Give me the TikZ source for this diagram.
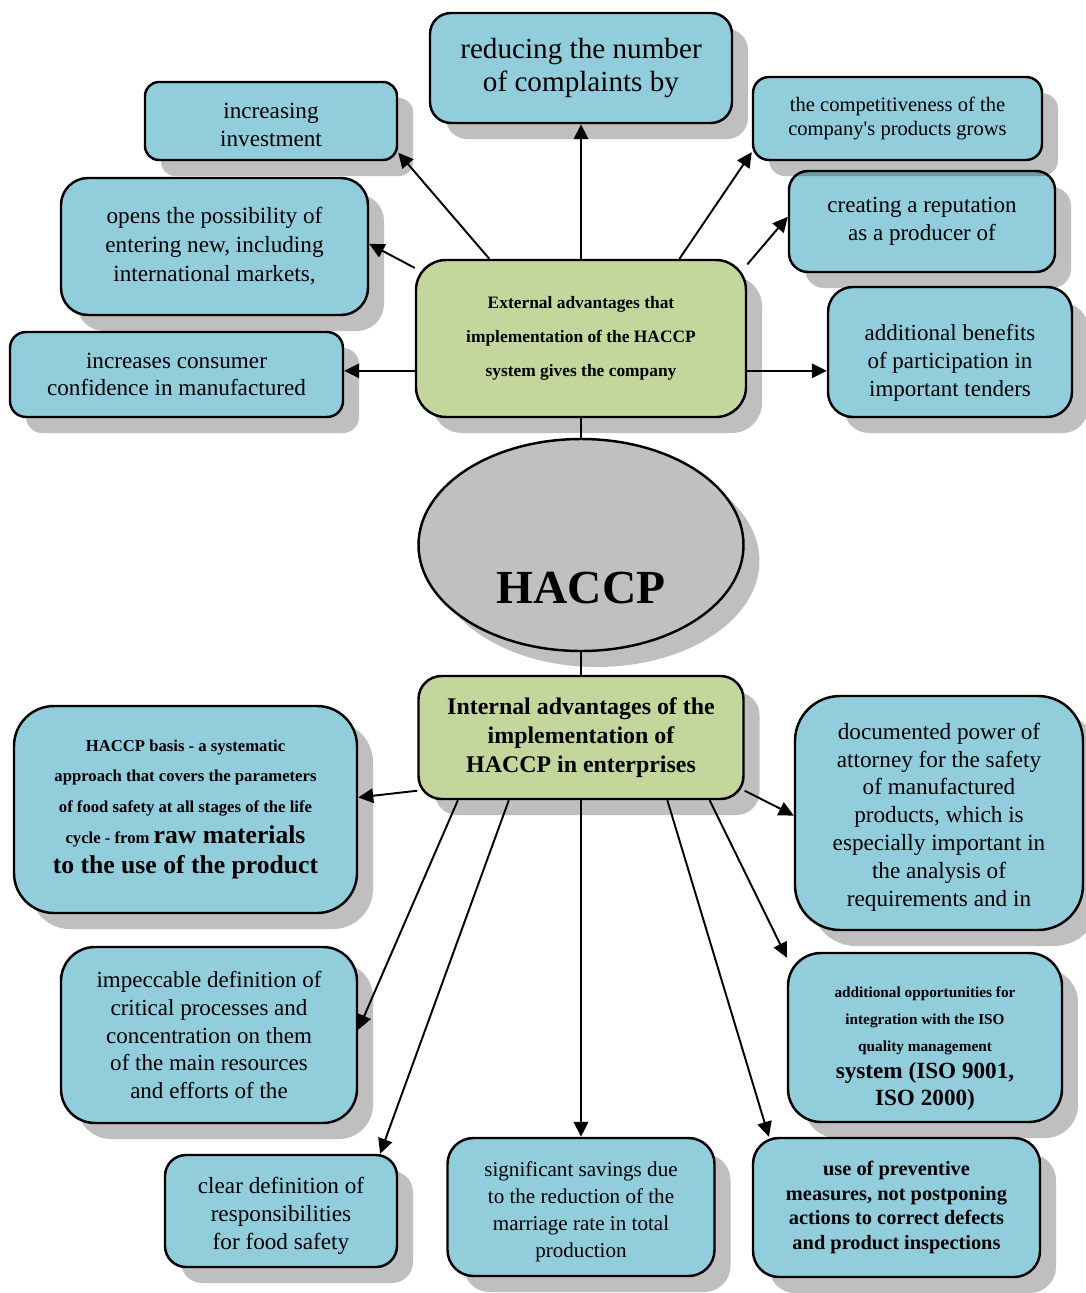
\documentclass[tikz,border=0pt]{standalone}
\usepackage{fontspec}
\setmainfont{Liberation Serif}
\usetikzlibrary{shapes.geometric,shadows,arrows.meta}
\definecolor{boxblue}{HTML}{92CDDC}
\definecolor{boxgreen}{HTML}{C3D69B}
\definecolor{hubgray}{HTML}{C0C0C0}
\newcommand{\topgap}[1]{\rule{0pt}{#1}}

\begin{document}
\begin{tikzpicture}[
  box/.style={draw, line width=1.4pt, fill=boxblue, align=center, inner sep=0pt,
    drop shadow={shadow xshift=0.32cm, shadow yshift=-0.32cm, fill=black, opacity=0.25}},
  adv/.style={box, fill=boxgreen},
  arr/.style={line width=1.1pt, -{Triangle[length=0.3cm,width=0.29cm]}},
  link/.style={line width=1.1pt}]
  \useasboundingbox (0,0) rectangle (21.72,-25.86);

  \node[adv, minimum width=6.6cm, minimum height=3.14cm, rounded corners=0.6cm,
    font=\fontsize{9.9}{19.3}\selectfont\bfseries] (ext) at (11.62,-6.77)
    {External advantages that\\implementation of the HACCP\\system gives the company};
  \node[box, minimum width=5.04cm, minimum height=1.56cm, rounded corners=0.28cm,
    font=\fontsize{13.2}{15.9}\selectfont] (invest) at (5.42,-2.42)
    {\topgap{13.6pt}increasing\\investment};
  \node[box, minimum width=6.14cm, minimum height=2.74cm, rounded corners=0.54cm,
    font=\fontsize{13.2}{16.5}\selectfont] (markets) at (4.29,-4.93)
    {opens the possibility of\\entering new, including\\international markets,};
  \node[box, minimum width=6.66cm, minimum height=1.7cm, rounded corners=0.32cm,
    font=\fontsize{13.2}{15.4}\selectfont] (consumer) at (3.53,-7.49)
    {increases consumer\\confidence in manufactured};
  \node[box, minimum width=6.04cm, minimum height=2.2cm, rounded corners=0.42cm,
    font=\fontsize{16.6}{19.3}\selectfont] (reducing) at (11.62,-1.36)
    {reducing the number\\of complaints by};
  \node[box, minimum width=4.88cm, minimum height=2.6cm, rounded corners=0.5cm,
    font=\fontsize{13.1}{15.9}\selectfont] (tenders) at (19.0,-7.04)
    {\topgap{21.5pt}additional benefits\\of participation in\\important tenders};
  \node[box, minimum width=5.32cm, minimum height=2.02cm, rounded corners=0.38cm,
    font=\fontsize{13.1}{15.9}\selectfont] (reput) at (18.44,-4.43)
    {creating a reputation\\as a producer of};
  \node[box, minimum width=5.78cm, minimum height=1.66cm, rounded corners=0.32cm,
    font=\fontsize{11.7}{14.2}\selectfont] (compet) at (17.95,-2.37)
    {the competitiveness of the\\company\textquotesingle s products grows};

  \node[draw, ellipse, fill=hubgray, line width=1.4pt, inner sep=0pt,
    minimum width=6.5cm, minimum height=4.24cm,
    drop shadow={shadow xshift=0.32cm, shadow yshift=-0.32cm, fill=black, opacity=0.25},
    font=\fontsize{27}{30}\selectfont\bfseries] (haccp) at (11.62,-10.9)
    {\raisebox{-1.16cm}[0pt][0pt]{HACCP}};

  \node[adv, minimum width=6.5cm, minimum height=2.46cm, rounded corners=0.46cm,
    font=\fontsize{13.6}{16.5}\selectfont\bfseries] (int) at (11.62,-14.75)
    {Internal advantages of the\\implementation of\\HACCP in enterprises};
  \node[box, minimum width=6.86cm, minimum height=4.14cm, rounded corners=0.8cm,
    font=\fontsize{9.5}{17.4}\selectfont\bfseries] (basis) at (3.71,-16.19)
    {HACCP basis - a systematic\\approach that covers the parameters\\of food safety at all stages of the life\\
     cycle - from {\fontsize{14.6}{15.4}\selectfont raw materials}\\
     {\fontsize{14.6}{15.4}\selectfont to the use of the product}};
  \node[box, minimum width=5.76cm, minimum height=4.68cm, rounded corners=0.9cm,
    font=\fontsize{13.2}{15.9}\selectfont] (docu) at (18.78,-16.26)
    {\topgap{14.1pt}documented power of\\attorney for the safety\\of manufactured\\products, which is\\
     especially important in\\the analysis of\\requirements and in};
  \node[box, minimum width=5.92cm, minimum height=3.52cm, rounded corners=0.68cm,
    font=\fontsize{13.1}{15.8}\selectfont] (impec) at (4.18,-20.7)
    {impeccable definition of\\critical processes and\\concentration on them\\
     of the main resources\\and efforts of the};
  \node[box, minimum width=5.48cm, minimum height=3.38cm, rounded corners=0.66cm,
    font=\fontsize{8.7}{15.4}\selectfont\bfseries] (iso) at (18.5,-20.75)
    {\topgap{18.4pt}additional opportunities for\\integration with the ISO\\quality management\\
     {\fontsize{13.2}{14.2}\selectfont system (ISO 9001,}\\
     {\fontsize{13.2}{14.2}\selectfont ISO 2000)}};
  \node[box, minimum width=4.64cm, minimum height=2.24cm, rounded corners=0.42cm,
    font=\fontsize{13.2}{15.9}\selectfont] (resp) at (5.62,-24.22)
    {\topgap{14.7pt}clear definition of\\responsibilities\\for food safety};
  \node[box, minimum width=5.34cm, minimum height=2.76cm, rounded corners=0.52cm,
    font=\fontsize{12}{15.4}\selectfont] (savings) at (11.62,-24.14)
    {\topgap{13.9pt}significant savings due\\to the reduction of the\\marriage rate in total\\production};
  \node[box, minimum width=5.74cm, minimum height=2.78cm, rounded corners=0.52cm,
    font=\fontsize{11.6}{13.9}\selectfont\bfseries] (prev) at (17.93,-24.15)
    {use of preventive\\measures, not postponing\\actions to correct defects\\and product inspections};

  \draw[arr] (ext.139) -- (invest.-14);
  \draw[arr] (ext.157) -- (markets.1);
  \draw[arr] (ext.191) -- (ext.191 -| consumer.east);
  \draw[arr] (ext.north) -- (reducing.south);
  \draw[arr] (ext.39) -- (compet.193);
  \draw[arr] (ext.24) -- (reput.178);
  \draw[arr] (ext.-11) -- (ext.-11 -| tenders.west);
  \draw[link] (ext.south) -- (haccp.north);
  \draw[link] (haccp.south) -- (int.north);
  \draw[arr] (int.198) -- (basis.4);
  \draw[arr] (int.207) -- (impec.2);
  \draw[arr] (int.221) -- (resp.30);
  \draw[arr] (int.south) -- (savings.north);
  \draw[arr] (int.-36) -- (prev.151);
  \draw[arr] (int.-26) -- (iso.150);
  \draw[arr] (int.-18) -- (docu.181);
\end{tikzpicture}
\end{document}
